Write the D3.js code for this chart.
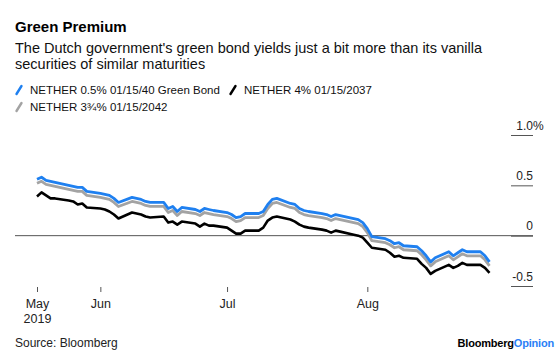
<!DOCTYPE html>
<html>
<head>
<meta charset="utf-8">
<script src="https://cdn.jsdelivr.net/npm/d3@7"></script>
<style>
  html, body { margin: 0; padding: 0; background: #fff; }
  svg { display: block; font-family: "Liberation Sans", Arial, sans-serif; }
</style>
</head>
<body>
<svg id="chart" width="560" height="356"></svg>
<script>
// ---------- DATA ----------
const dates = [
  "2019-05-20","2019-05-21","2019-05-22","2019-05-23","2019-05-24","2019-05-27","2019-05-28","2019-05-29","2019-05-30","2019-05-31",
  "2019-06-03","2019-06-04","2019-06-05","2019-06-06","2019-06-07","2019-06-10","2019-06-11","2019-06-12","2019-06-13","2019-06-14",
  "2019-06-17","2019-06-18","2019-06-19","2019-06-20","2019-06-21","2019-06-24","2019-06-25","2019-06-26","2019-06-27","2019-06-28",
  "2019-07-01","2019-07-02","2019-07-03","2019-07-04","2019-07-05","2019-07-08","2019-07-09","2019-07-10","2019-07-11","2019-07-12",
  "2019-07-15","2019-07-16","2019-07-17","2019-07-18","2019-07-19","2019-07-22","2019-07-23","2019-07-24","2019-07-25","2019-07-26",
  "2019-07-29","2019-07-30","2019-07-31",
  "2019-08-01","2019-08-02","2019-08-05","2019-08-06","2019-08-07","2019-08-08","2019-08-09","2019-08-12","2019-08-13","2019-08-14",
  "2019-08-15","2019-08-16","2019-08-19","2019-08-20","2019-08-21","2019-08-22","2019-08-23","2019-08-26","2019-08-27","2019-08-28"
];
// NETHER 0.5% 01/15/40 Green Bond
const greenBond = [
  0.56,0.58,0.55,0.54,0.53,0.50,0.49,0.48,0.48,0.44,
  0.42,0.41,0.40,0.37,0.33,0.38,0.37,0.36,0.34,0.33,
  0.33,0.27,0.29,0.24,0.28,0.26,0.24,0.27,0.26,0.25,
  0.23,0.21,0.18,0.19,0.22,0.22,0.24,0.31,0.36,0.37,
  0.32,0.31,0.27,0.25,0.24,0.22,0.21,0.19,0.21,0.20,
  0.17,0.16,0.13,
  0.07,-0.01,-0.03,-0.05,-0.08,-0.07,-0.10,-0.11,-0.15,-0.20,
  -0.26,-0.22,-0.16,-0.20,-0.17,-0.14,-0.16,-0.16,-0.20,-0.26
];
// NETHER 4% 01/15/2037
const bond2037 = [
  0.39,0.43,0.40,0.37,0.37,0.35,0.34,0.31,0.32,0.28,
  0.27,0.26,0.24,0.21,0.17,0.23,0.22,0.21,0.19,0.18,
  0.19,0.13,0.14,0.11,0.14,0.12,0.09,0.12,0.10,0.10,
  0.08,0.05,0.02,0.02,0.05,0.05,0.08,0.15,0.18,0.19,
  0.16,0.14,0.11,0.09,0.08,0.06,0.05,0.03,0.05,0.04,
  0.01,0.00,-0.02,
  -0.07,-0.12,-0.14,-0.17,-0.21,-0.20,-0.22,-0.23,-0.28,-0.32,
  -0.38,-0.35,-0.29,-0.32,-0.30,-0.27,-0.29,-0.29,-0.32,-0.37
];
// NETHER 3¾% 01/15/2042
const bond2042 = [
  0.52,0.54,0.51,0.50,0.49,0.46,0.45,0.44,0.44,0.40,
  0.38,0.37,0.36,0.33,0.29,0.34,0.33,0.32,0.30,0.29,
  0.29,0.23,0.25,0.20,0.24,0.22,0.20,0.23,0.22,0.21,
  0.19,0.17,0.14,0.15,0.18,0.18,0.20,0.27,0.32,0.33,
  0.28,0.27,0.23,0.21,0.20,0.18,0.17,0.15,0.17,0.16,
  0.13,0.12,0.09,
  0.03,-0.05,-0.07,-0.09,-0.12,-0.11,-0.14,-0.15,-0.19,-0.24,
  -0.30,-0.26,-0.20,-0.24,-0.21,-0.18,-0.20,-0.20,-0.24,-0.30
];
const seriesNames = ["NETHER 0.5% 01/15/40 Green Bond", "NETHER 4% 01/15/2037", "NETHER 3\u00BE% 01/15/2042"];
const xTickDates = ["2019-05-20","2019-06-03","2019-07-01","2019-08-01"];
const xTickLabels = [["May","2019"],["Jun"],["Jul"],["Aug"]];
const yTickValues = [1.0, 0.5, 0, -0.5];
const yTickLabels = ["1.0", "0.5", "0", "-0.5"];

// ---------- CHART ----------
const parse = d3.utcParse("%Y-%m-%d");
const svg = d3.select("#chart");
const colors = { green: "#1f80f0", b2037: "#000000", b2042: "#a3a3a3" };
const axisColor = "#555";

const x = d3.scaleUtc()
  .domain([parse(dates[0]), parse(dates[dates.length - 1])])
  .range([37, 489.5]);
const y = d3.scaleLinear().domain([-0.5, 1.0]).range([286, 135]);

// Titles
svg.append("text").attr("x", 15).attr("y", 32)
  .attr("font-size", 15).attr("font-weight", "bold").attr("fill", "#000")
  .text("Green Premium");
svg.append("text").attr("x", 15).attr("y", 53)
  .attr("font-size", 14.5).attr("fill", "#111")
  .text("The Dutch government's green bond yields just a bit more than its vanilla");
svg.append("text").attr("x", 15).attr("y", 69)
  .attr("font-size", 14.5).attr("fill", "#111")
  .text("securities of similar maturities");

// Legend
const legendItems = [
  { name: seriesNames[0], color: colors.green, x: 15, y: 94 },
  { name: seriesNames[1], color: colors.b2037, x: 229, y: 94 },
  { name: seriesNames[2], color: colors.b2042, x: 15, y: 111 }
];
const lg = svg.append("g");
legendItems.forEach(it => {
  lg.append("line")
    .attr("x1", it.x + 1.5).attr("y1", it.y)
    .attr("x2", it.x + 6.5).attr("y2", it.y - 8)
    .attr("stroke", it.color).attr("stroke-width", 2.4).attr("stroke-linecap", "round");
  lg.append("text").attr("x", it.x + 15).attr("y", it.y)
    .attr("font-size", 11.5).attr("fill", "#111").text(it.name);
});

// Y axis (right side)
const yAxis = d3.axisLeft(y)
  .tickValues(yTickValues)
  .tickSize(22)
  .tickFormat((d, i) => yTickLabels[i]);
const yg = svg.append("g").attr("transform", "translate(533,0)").call(yAxis);
yg.select(".domain").remove();
yg.selectAll(".tick line").attr("stroke", axisColor);
yg.selectAll(".tick text")
  .attr("x", 0).attr("dy", -6).attr("text-anchor", "end")
  .attr("font-size", 12).attr("fill", "#222")
  .attr("font-family", "Liberation Sans, Arial, sans-serif");
yg.selectAll(".tick").filter(d => d === 1.0).append("text")
  .attr("x", 0).attr("dy", -6).attr("text-anchor", "start")
  .attr("font-size", 12).attr("fill", "#222").text("%");

// Zero line
svg.append("line")
  .attr("x1", 15).attr("x2", 533)
  .attr("y1", y(0)).attr("y2", y(0))
  .attr("stroke", axisColor).attr("stroke-width", 1);

// X axis
const xAxis = d3.axisBottom(x)
  .tickValues(xTickDates.map(parse))
  .tickSize(5)
  .tickFormat(() => "");
const xg = svg.append("g").attr("transform", "translate(0,287)").call(xAxis);
xg.select(".domain").remove();
xg.selectAll(".tick line").attr("stroke", axisColor);
xg.selectAll(".tick text").each(function(d, i) {
  const t = d3.select(this)
    .attr("y", 21).attr("dy", 0)
    .attr("font-size", 12.5).attr("fill", "#222")
    .attr("font-family", "Liberation Sans, Arial, sans-serif");
  xTickLabels[i].forEach((s, j) => {
    t.append("tspan").attr("x", 0).attr("dy", j === 0 ? 0 : 15).text(s);
  });
});

// Lines
const line = d3.line()
  .x(d => x(d.date))
  .y(d => y(d.value));
function toPts(vals) { return vals.map((v, i) => ({ date: parse(dates[i]), value: v })); }
const plot = [
  { vals: bond2037, color: colors.b2037, w: 2.6 },
  { vals: bond2042, color: colors.b2042, w: 2.8 },
  { vals: greenBond, color: colors.green, w: 2.8 }
];
plot.forEach(s => {
  svg.append("path").datum(toPts(s.vals))
    .attr("fill", "none").attr("stroke", s.color)
    .attr("stroke-width", s.w).attr("stroke-linejoin", "round")
    .attr("d", line);
});

// Footer
svg.append("text").attr("x", 15).attr("y", 347)
  .attr("font-size", 12).attr("fill", "#222").text("Source: Bloomberg");
const brand = svg.append("text").attr("x", 554).attr("y", 347)
  .attr("text-anchor", "end").attr("font-size", 11).attr("font-weight", "bold")
  .attr("letter-spacing", -0.2);
brand.append("tspan").attr("fill", "#000").text("Bloomberg");
brand.append("tspan").attr("fill", "#2b7ff6").text("Opinion");
</script>
</body>
</html>
